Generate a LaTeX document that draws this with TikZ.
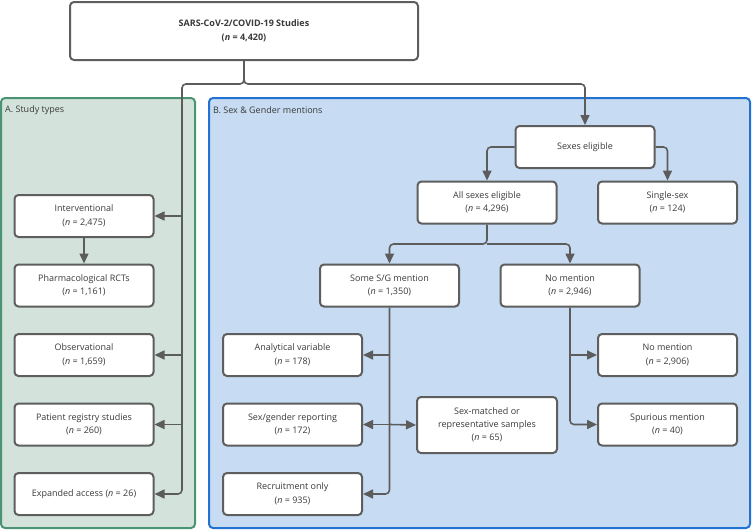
\documentclass[tikz,border=0pt]{standalone}
\usepackage{fontspec}
\setmainfont{Open Sans}
\usepackage{tikz}
\usetikzlibrary{positioning,arrows.meta}

\definecolor{boxgray}{HTML}{5E5E5E}
\definecolor{linegray}{HTML}{5C5C5C}
\definecolor{textgray}{HTML}{3A3A3A}
\definecolor{panelAfill}{HTML}{D3E3DC}
\definecolor{panelAdraw}{HTML}{4A9474}
\definecolor{panelBfill}{HTML}{C7DCF2}
\definecolor{panelBdraw}{HTML}{2272D2}

\tikzset{
  box/.style={draw=boxgray, line width=2pt, fill=white, rounded corners=4pt,
    minimum width=139pt, minimum height=42pt, inner sep=0pt, align=center,
    text=textgray, font=\fontsize{9}{13.5}\selectfont},
  conn/.style={draw=linegray, line width=1.6pt, rounded corners=4pt,
    -{Triangle[length=10pt,width=9pt]}},
  panel_label/.style={anchor=west, inner sep=0pt, text=textgray,
    font=\fontsize{9}{10}\selectfont}
}

\begin{document}
\begin{tikzpicture}[x=1pt, y=-1pt]
\useasboundingbox (0,0) rectangle (752,530);
\draw[fill=panelAfill, draw=panelAdraw, line width=2pt, rounded corners=4pt] (1,98) rectangle (195,528);
\draw[fill=panelBfill, draw=panelBdraw, line width=2pt, rounded corners=4pt] (209,98) rectangle (750,528);
\node[panel_label] (label_a) at (5,110) {A. Study types};
\node[panel_label] (label_b) at (213,110) {B. Sex \& Gender mentions};

\node[box, minimum width=348pt, minimum height=58pt, font=\fontsize{9}{13.5}\selectfont\bfseries] (node_all) at (244,31) {SARS-CoV-2/COVID-19 Studies\\(\textit{n} = 4,420)};

\node[box] (node_interv) at (84,216) {Interventional\\(\textit{n} = 2,475)};
\node[box] (node_rct) at (84,285.5) {Pharmacological RCTs\\(\textit{n} = 1,161)};
\node[box] (node_obs) at (84,355) {Observational\\(\textit{n} = 1,659)};
\node[box] (node_registry) at (84,424.5) {Patient registry studies\\(\textit{n} = 260)};
\node[box] (node_expanded) at (84,494) {Expanded access (\textit{n} = 26)};

\node[box] (node_sexes) at (585,147) {Sexes eligible};
\node[box] (node_all_sexes) at (487,202.5) {All sexes eligible\\(\textit{n} = 4,296)};
\node[box] (node_single) at (667.5,202.5) {Single-sex\\(\textit{n} = 124)};
\node[box] (node_some) at (389.5,285.5) {Some S/G mention\\(\textit{n} = 1,350)};
\node[box] (node_none) at (570,285.5) {No mention\\(\textit{n} = 2,946)};
\node[box] (node_analytical) at (292.5,355) {Analytical variable\\(\textit{n} = 178)};
\node[box] (node_reporting) at (292.5,424.5) {Sex/gender reporting\\(\textit{n} = 172)};
\node[box] (node_recruit) at (292.5,494) {Recruitment only\\(\textit{n} = 935)};
\node[box, minimum width=140pt, minimum height=56pt, font=\fontsize{9}{13}\selectfont] (node_matched) at (487,425) {Sex-matched or\\representative samples\\(\textit{n} = 65)};
\node[box] (node_none_b) at (667.5,355) {No mention\\(\textit{n} = 2,906)};
\node[box] (node_spurious) at (667.5,424.5) {Spurious mention\\(\textit{n} = 40)};

\coordinate (spine_a) at (182,84);
\coordinate (spine_b) at (node_sexes.north |- spine_a);
\coordinate (split_sexes) at (487,244);

\draw[conn] (node_all.south) |- (spine_a) |- (node_expanded.east);
\draw[conn] (spine_a |- node_interv.east) -- (node_interv.east);
\draw[conn] (spine_a |- node_obs.east) -- (node_obs.east);
\draw[conn] (spine_a |- node_registry.east) -- (node_registry.east);
\draw[conn] (node_interv.south) -- (node_rct.north);
\draw[conn] (node_all.south) |- (spine_b) -- (node_sexes.north);

\draw[conn] (node_sexes.west) -| (node_all_sexes.north);
\draw[conn] (node_sexes.east) -| (node_single.north);
\draw[conn] (node_all_sexes.south) -- (split_sexes) -| (node_some.north);
\draw[conn] (split_sexes) -| (node_none.north);

\draw[conn] (node_some.south) |- (node_recruit.east);
\draw[conn] (node_some.south |- node_analytical.east) -- (node_analytical.east);
\draw[conn] (node_some.south |- node_reporting.east) -- (node_reporting.east);
\draw[conn] (node_some.south |- node_reporting.east) -- (node_matched.west);

\draw[conn] (node_none.south) |- (node_spurious.west);
\draw[conn] (node_none.south |- node_none_b.west) -- (node_none_b.west);
\end{tikzpicture}
\end{document}
